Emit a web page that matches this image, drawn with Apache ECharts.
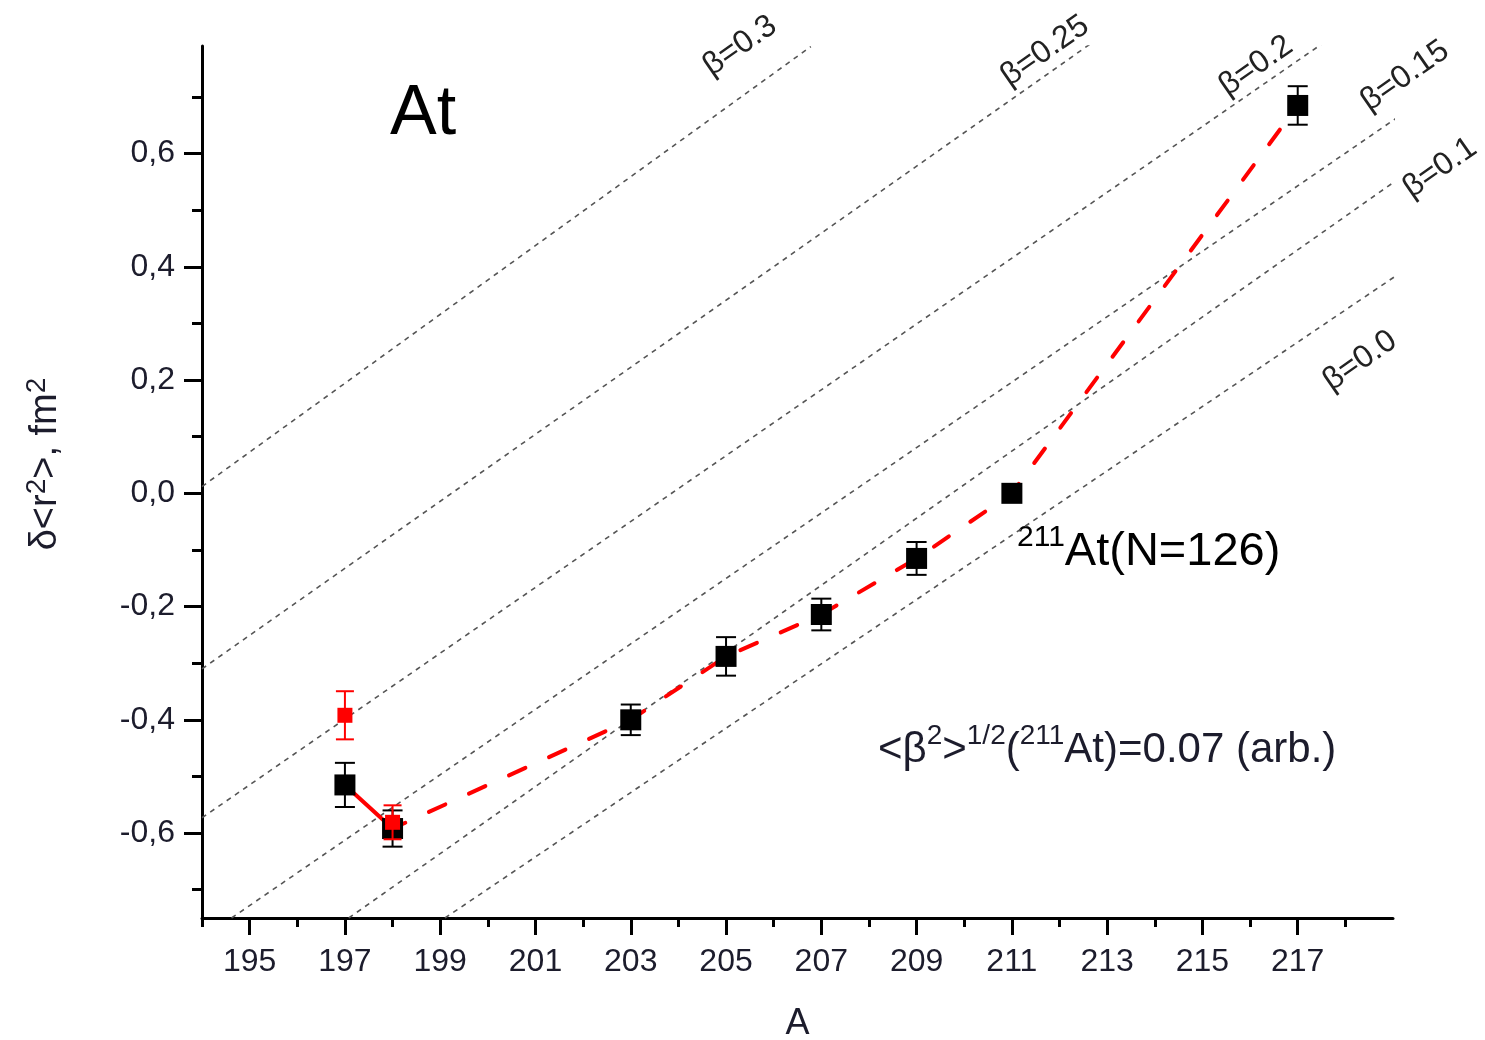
<!DOCTYPE html>
<html><head><meta charset="utf-8">
<script src="https://cdn.jsdelivr.net/npm/echarts@6/dist/echarts.min.js"></script>
<style>html,body{margin:0;padding:0;background:#fff}#c{width:1485px;height:1040px}</style>
</head><body><div id="c"></div>
<script>
// ---- data ----
const massNumbers = [197, 198, 203, 205, 207, 209, 211, 217];
const blackValues = [-0.515, -0.592, -0.400, -0.288, -0.214, -0.115, 0.000, 0.685];
const blackErrors = [0.039, 0.032, 0.027, 0.034, 0.028, 0.029, 0.0, 0.034];
const redMass = [197, 198];
const redValues = [-0.392, -0.581];
const redErrors = [0.0425, 0.030];
const xMajorTicks = [195, 197, 199, 201, 203, 205, 207, 209, 211, 213, 215, 217];
const xMinorTicks = [194, 196, 198, 200, 202, 204, 206, 208, 210, 212, 214, 216, 218];
const yMajorTicks = [-0.6, -0.4, -0.2, 0.0, 0.2, 0.4, 0.6];
const yMinorTicks = [-0.7, -0.5, -0.3, -0.1, 0.1, 0.3, 0.5, 0.7];
const betaNames = ['β=0.3', 'β=0.25', 'β=0.2', 'β=0.15', 'β=0.1', 'β=0.0'];
const betaStartA = [194, 194, 194, 194.62, 197.08, 199.1];
const betaStartR = [0.012, -0.31, -0.573, -0.75, -0.75, -0.75];
const betaEndA = [206.78, 212.67, 217.53, 219.06, 219.06, 219.06];
const betaEndR = [0.789, 0.795, 0.795, 0.662, 0.552, 0.384];

// ---- chart ----
const FONT = 'Liberation Sans, Arial, sans-serif';
const TXT = '#1c1c2c';
const chart = echarts.init(document.getElementById('c'), null, {renderer: 'canvas'});

const betaSeries = betaNames.map((n, i) => ({
  type: 'line', name: n, silent: true, symbol: 'none', z: 1,
  data: [[betaStartA[i], betaStartR[i]], [betaEndA[i], betaEndR[i]]],
  lineStyle: {color: '#555', width: 1.6, type: [5, 5]}
}));

function errRender(capW, color) {
  return function (params, api) {
    const x = api.value(0), y = api.value(1), e = api.value(2);
    if (!e) return null;
    const top = api.coord([x, y + e]);
    const bot = api.coord([x, y - e]);
    const st = {stroke: color, lineWidth: 2};
    return {type: 'group', children: [
      {type: 'line', shape: {x1: top[0], y1: top[1], x2: bot[0], y2: bot[1]}, style: st},
      {type: 'line', shape: {x1: top[0] - capW / 2, y1: top[1], x2: top[0] + capW / 2, y2: top[1]}, style: st},
      {type: 'line', shape: {x1: bot[0] - capW / 2, y1: bot[1], x2: bot[0] + capW / 2, y2: bot[1]}, style: st}
    ]};
  };
}

const fitPoints = massNumbers.map((a, i) => [a, blackValues[i]]);

const option = {
  animation: false,
  backgroundColor: '#fff',
  grid: {left: 202, right: 92, top: 46, bottom: 122, containLabel: false, outerBoundsMode: 'none'},
  xAxis: [{
    type: 'value', min: 194, max: 219,
    axisLine: {show: true, onZero: false, lineStyle: {color: '#000', width: 3}},
    axisTick: {show: true, customValues: xMajorTicks, length: 17, lineStyle: {color: '#000', width: 3}},
    axisLabel: {customValues: xMajorTicks, margin: 28, color: TXT, fontSize: 32, fontFamily: FONT},
    splitLine: {show: false},
    name: 'A', nameLocation: 'middle', nameGap: 88,
    nameTextStyle: {fontSize: 36, color: TXT, fontFamily: FONT}
  }, {
    type: 'value', min: 194, max: 219, position: 'bottom', offset: 0,
    axisLine: {show: false, onZero: false},
    axisTick: {show: true, customValues: xMinorTicks, length: 9, lineStyle: {color: '#000', width: 3}},
    axisLabel: {show: false}, splitLine: {show: false}
  }],
  yAxis: [{
    type: 'value', min: -0.75, max: 0.79,
    axisLine: {show: true, onZero: false, lineStyle: {color: '#000', width: 3}},
    axisTick: {show: true, customValues: yMajorTicks, length: 18, lineStyle: {color: '#000', width: 3}},
    axisLabel: {customValues: yMajorTicks, margin: 27, color: TXT, fontSize: 32, fontFamily: FONT,
      formatter: v => v.toFixed(1).replace('.', ',')},
    splitLine: {show: false}
  }, {
    type: 'value', min: -0.75, max: 0.79, position: 'left', offset: 0,
    axisLine: {show: false, onZero: false},
    axisTick: {show: true, customValues: yMinorTicks, length: 10, lineStyle: {color: '#000', width: 3}},
    axisLabel: {show: false}, splitLine: {show: false}
  }],
  series: [
    ...betaSeries,
    {type: 'line', silent: true, symbol: 'none', z: 3,
     data: fitPoints.slice(0, 2),
     lineStyle: {color: '#ff0000', width: 4, type: 'solid', cap: 'round'}},
    {type: 'line', silent: true, symbol: 'none', z: 3,
     data: fitPoints.slice(1),
     lineStyle: {color: '#ff0000', width: 4, type: [18, 26], cap: 'round', dashOffset: 4}},
    {type: 'custom', z: 4, silent: true, renderItem: errRender(20, '#000'),
     data: massNumbers.map((a, i) => [a, blackValues[i], blackErrors[i]])},
    {type: 'scatter', z: 5, symbol: 'rect', symbolSize: 21, silent: true,
     itemStyle: {color: '#000', opacity: 1}, data: fitPoints},
    {type: 'custom', z: 6, silent: true, renderItem: errRender(18, '#ff0000'),
     data: redMass.map((a, i) => [a, redValues[i], redErrors[i]])},
    {type: 'scatter', z: 7, symbol: 'rect', symbolSize: 15, silent: true,
     itemStyle: {color: '#ff0000', opacity: 1}, data: redMass.map((a, i) => [a, redValues[i]])}
  ],
  graphic: [
    {type: 'text', x: 46, y: 464, rotation: Math.PI / 2, style: {
      text: '{m|δ<r}{s|2}{m|>, fm}{s|2}', align: 'center', verticalAlign: 'middle', fill: TXT, fontFamily: FONT,
      rich: {s: {fontSize: 28, lineHeight: 26, verticalAlign: 'top', fontFamily: FONT, fill: TXT},
             m: {fontSize: 38, lineHeight: 46, fontFamily: FONT, fill: TXT}}}},
    {type: 'text', left: 390, top: 80, style: {text: 'At', fontSize: 70, fill: '#000', fontFamily: FONT}},
    {type: 'text', x: 1017, y: 523, style: {
      text: '{s|211}{m|At(N=126)}', fill: '#000', fontFamily: FONT,
      rich: {s: {fontSize: 30, lineHeight: 30, verticalAlign: 'top', fontFamily: FONT, fill: '#000'},
             m: {fontSize: 47, lineHeight: 58, fontFamily: FONT, fill: '#000'}}}},
    {type: 'text', x: 878, y: 722, style: {
      text: '{m|<β}{s|2}{m|>}{s|1/2}{m|(}{s|211}{m|At)=0.07 (arb.)}', fill: TXT, fontFamily: FONT,
      rich: {s: {fontSize: 28, lineHeight: 28, verticalAlign: 'top', fontFamily: FONT, fill: TXT},
             m: {fontSize: 42, lineHeight: 56, fontFamily: FONT, fill: TXT}}}},
    ...[[740, 46], [1045, 51], [1256, 66], [1405, 76], [1440, 168], [1360, 361]].map((p, i) => ({
      type: 'text', x: p[0], y: p[1], rotation: 0.61,
      style: {text: betaNames[i], fontSize: 32, fill: '#222', fontFamily: FONT, align: 'center', verticalAlign: 'middle'}
    }))
  ]
};
chart.setOption(option);
</script>
</body></html>
